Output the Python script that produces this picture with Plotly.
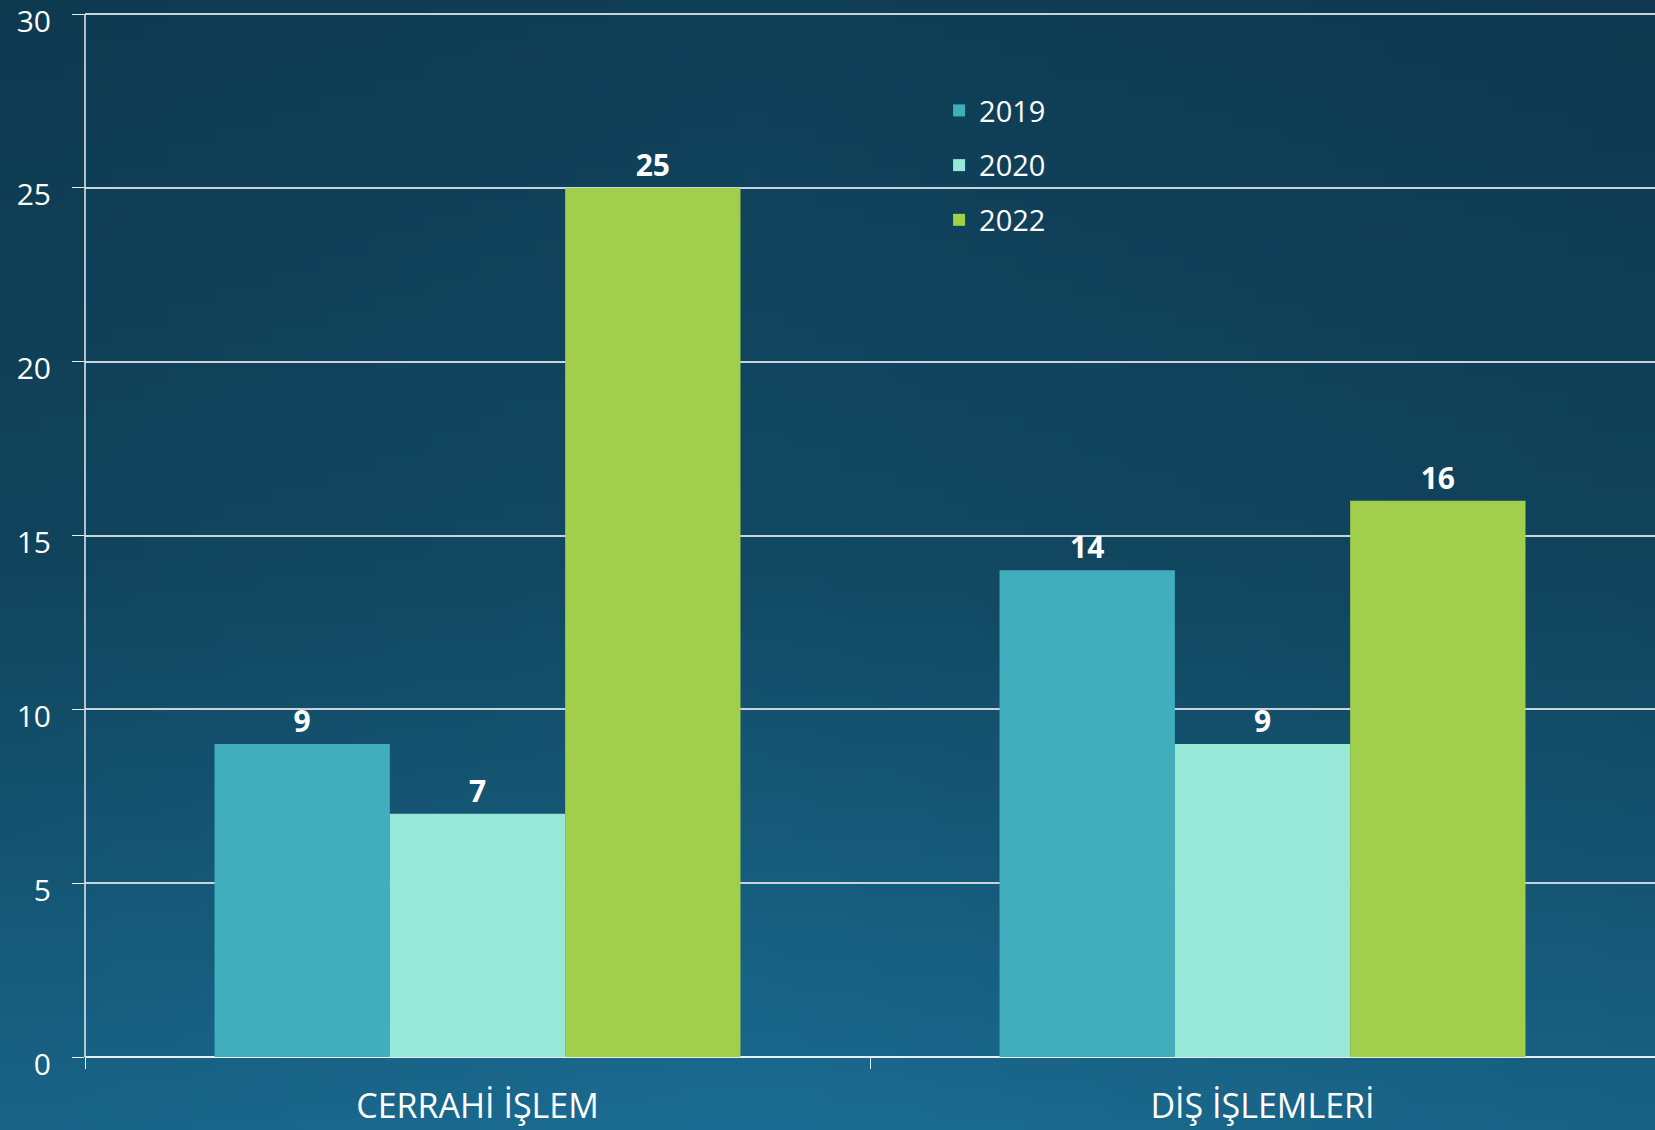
import base64
import struct
import zlib

import plotly.graph_objects as go

# Data
categories = ["CERRAHİ İŞLEM", "DİŞ İŞLEMLERİ"]
years = ["2019", "2020", "2022"]
values_2019 = [9, 14]
values_2020 = [7, 9]
values_2022 = [25, 16]
y_ticks = [0, 5, 10, 15, 20, 25, 30]

COLORS = {"2019": "#41aebe", "2020": "#98e8d8", "2022": "#a2cf4b"}
FONT = "Open Sans"

W, H = 1655, 1130
M_L, M_R, M_T, M_B = 85, 0, 4, 73


def gradient_png(w=64, h=64):
    """Small PNG with the dark-teal background gradient (data URI)"""
    top = (16, 63, 88)
    mid = (18, 74, 100)
    bot = (27, 108, 146)
    rows = b""
    for j in range(h):
        t = j / (h - 1)
        if t < 0.5:
            a, b, f = top, mid, t / 0.5
        else:
            a, b, f = mid, bot, (t - 0.5) / 0.5
        base = [a[k] + (b[k] - a[k]) * f for k in range(3)]
        row = b"\x00"
        for i in range(w):
            s = i / (w - 1)
            # darken a little towards the left and right edges
            d = 1 - 0.08 * abs(s - 0.45) * 2
            row += bytes(int(max(0, min(255, c * d))) for c in base)
        rows += row

    def chunk(tag, data):
        c = struct.pack(">I", len(data)) + tag + data
        return c + struct.pack(">I", zlib.crc32(tag + data) & 0xFFFFFFFF)

    png = b"\x89PNG\r\n\x1a\n"
    png += chunk(b"IHDR", struct.pack(">IIBBBBB", w, h, 8, 2, 0, 0, 0))
    png += chunk(b"IDAT", zlib.compress(rows))
    png += chunk(b"IEND", b"")
    return "data:image/png;base64," + base64.b64encode(png).decode()


fig = go.Figure()

for year, vals in zip(years, [values_2019, values_2020, values_2022]):
    fig.add_trace(
        go.Bar(
            x=categories,
            y=vals,
            name=year,
            legendgroup=year,
            marker=dict(color=COLORS[year], line=dict(width=0)),
            text=vals,
            textposition="outside",
            textfont=dict(family=FONT, size=30, color="white", weight="bold"),
            cliponaxis=False,
        )
    )

plot_w = W - M_L - M_R
plot_h = H - M_T - M_B

fig.add_layout_image(
    dict(
        source=gradient_png(),
        xref="paper",
        yref="paper",
        x=-M_L / plot_w,
        y=1 + M_T / plot_h,
        sizex=W / plot_w,
        sizey=H / plot_h,
        sizing="stretch",
        xanchor="left",
        yanchor="top",
        layer="below",
    )
)

fig.update_layout(
    width=W,
    height=H,
    margin=dict(l=M_L, r=M_R, t=M_T, b=M_B),
    paper_bgcolor="#134b67",
    plot_bgcolor="rgba(0,0,0,0)",
    barmode="group",
    bargap=0.33,
    bargroupgap=0,
    font=dict(family=FONT, color="white"),
    legend=dict(
        x=0.544,
        y=0.923,
        xanchor="left",
        yanchor="top",
        font=dict(size=29, color="white"),
        bgcolor="rgba(0,0,0,0)",
        tracegroupgap=14,
        traceorder="grouped",
    ),
    xaxis=dict(
        tickson="boundaries",
        ticks="outside",
        ticklen=11,
        tickcolor="#e8eef2",
        tickfont=dict(size=34, color="white"),
        ticklabelstandoff=26,
        showgrid=False,
        showline=False,
        automargin=False,
    ),
    yaxis=dict(
        range=[0, 30.29],
        tickvals=y_ticks,
        ticks="outside",
        ticklen=12,
        tickcolor="#e8eef2",
        tickfont=dict(size=30, color="white"),
        showgrid=True,
        gridcolor="#c9d3da",
        gridwidth=1.5,
        zeroline=True,
        zerolinecolor="#e8eef2",
        zerolinewidth=1.5,
        showline=False,
        ticklabelstandoff=15,
        ticklabelshift=7,
        ticklabeloverflow="allow",
        automargin=False,
    ),
)

# vertical axis line only up to the top gridline, as in the reference
fig.add_shape(
    type="line", xref="paper", yref="y", x0=0, x1=0, y0=0, y1=max(y_ticks),
    line=dict(color="#e8eef2", width=1.5),
)

fig.write_html(
    "out.html",
    config={"displayModeBar": False},
    post_script="document.body.style.margin='0';document.body.style.overflow='hidden';",
)
